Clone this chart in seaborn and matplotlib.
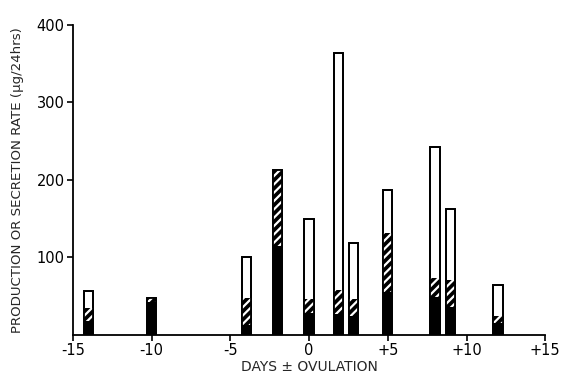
import numpy as np
import pandas as pd
import matplotlib
matplotlib.use("Agg")
import matplotlib.pyplot as plt
import seaborn as sns

# ---- data ----
days = [-14, -10, -4, -2, 0, 1.85, 2.8, 5, 8, 9, 12]
total = [57, 48, 100, 213, 150, 364, 119, 187, 242, 163, 65]     # open top of each bar
hatched_top = [35, 48, 48, 213, 46, 58, 47, 131, 73, 71, 24]     # top of hatched part
black_top = [18, 42, 13, 115, 29, 27, 24, 55, 49, 36, 15]        # top of solid black part

xticks = [-15, -10, -5, 0, 5, 10, 15]
xticklabels = ["-15", "-10", "-5", "0", "+5", "+10", "+15"]
yticks = [100, 200, 300, 400]
yticklabels = ["100", "200", "300", "400"]

df = pd.DataFrame({"day": days, "total": total, "hatch": hatched_top, "black": black_top})

sns.set_style("ticks")
plt.rcParams["font.family"] = ["DejaVu Sans"]
plt.rcParams["hatch.linewidth"] = 1.6

fig = plt.figure(figsize=(5.65, 3.76), dpi=100)
ax = fig.add_axes([0.129, 0.109, 0.836, 0.825])

bar_w = 0.58
native = np.min(np.diff(np.unique(df["day"])))
w = bar_w / native

common = dict(x="day", native_scale=True, width=w, errorbar=None, saturation=1, ax=ax)
sns.barplot(data=df, y="total", color="white", edgecolor="black", linewidth=1.3, **common)
sns.barplot(data=df, y="hatch", color="black", edgecolor="white", linewidth=0, hatch="////", **common)
sns.barplot(data=df, y="black", color="black", edgecolor="black", linewidth=0, **common)
sns.barplot(data=df, y="total", fill=False, color="black", edgecolor="black", linewidth=1.3, **common)

ax.set_xlim(-15, 15)
ax.set_ylim(0, 400)
ax.set_xticks(xticks)
ax.set_xticklabels(xticklabels)
ax.set_yticks(yticks)
ax.set_yticklabels(yticklabels)
ax.tick_params(axis="both", direction="out", length=4, width=1.2, labelsize=10.5, colors="black", pad=2)

for s in ["top", "right"]:
    ax.spines[s].set_visible(False)
for s in ["left", "bottom"]:
    ax.spines[s].set_linewidth(1.3)
    ax.spines[s].set_color("black")

ax.set_xlabel("DAYS \u00b1 OVULATION", fontsize=10, labelpad=1)
ax.set_ylabel("PRODUCTION OR SECRETION RATE (\u03bcg/24hrs)", fontsize=9.6, labelpad=9)

fig.savefig("out.png", dpi=100)
